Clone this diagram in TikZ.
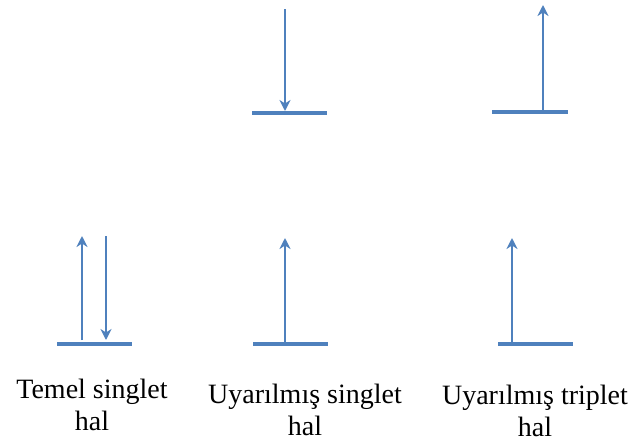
\documentclass[tikz,border=0pt]{standalone}
\usepackage{fontspec}
\setmainfont{Liberation Serif}
\usetikzlibrary{arrows.meta}
\definecolor{lvl}{RGB}{79,129,189}
\begin{document}
\begin{tikzpicture}[x=1pt,y=-1pt,
  level/.style={draw=lvl,line width=4.8pt},
  spin/.style={draw=lvl,line width=2.6pt,-{Stealth[length=11pt,width=11pt,inset=3.5pt]}},
  lbl/.style={font=\fontsize{28}{32}\selectfont,align=center,anchor=base,inner sep=0pt}]
\useasboundingbox (0,0) rectangle (633,445);
% levels
\coordinate (gl) at (57,344); \coordinate (gr) at (132,344);
\coordinate (sl) at (253,344); \coordinate (sr) at (328,344);
\coordinate (tl) at (498,344); \coordinate (tr) at (573,344);
\coordinate (sul) at (252,113); \coordinate (sur) at (327,113);
\coordinate (tul) at (492,112); \coordinate (tur) at (568,112);
\draw[level] (gl) -- (gr);
\draw[level] (sl) -- (sr);
\draw[level] (tl) -- (tr);
\draw[level] (sul) -- (sur);
\draw[level] (tul) -- (tur);
% spins
\coordinate (g1a) at (82,340); \coordinate (g1b) at (82,236);
\coordinate (g2a) at (106,236); \coordinate (g2b) at (106,340);
\coordinate (s1a) at (285,342); \coordinate (s1b) at (285,238);
\coordinate (t1a) at (512,342); \coordinate (t1b) at (512,238);
\coordinate (s2a) at (285,9); \coordinate (s2b) at (285,111);
\coordinate (t2a) at (543,110); \coordinate (t2b) at (543,5);
\draw[spin] (g1a) -- (g1b);
\draw[spin] (g2a) -- (g2b);
\draw[spin] (s1a) -- (s1b);
\draw[spin] (t1a) -- (t1b);
\draw[spin] (s2a) -- (s2b);
\draw[spin] (t2a) -- (t2b);
% labels
\node[lbl] (L1) at (92,430) {Temel singlet\\hal};
\node[lbl] (L2) at (305,435) {Uyarılmış singlet\\hal};
\node[lbl] (L3) at (535,436) {Uyarılmış triplet\\hal};
\end{tikzpicture}
\end{document}
